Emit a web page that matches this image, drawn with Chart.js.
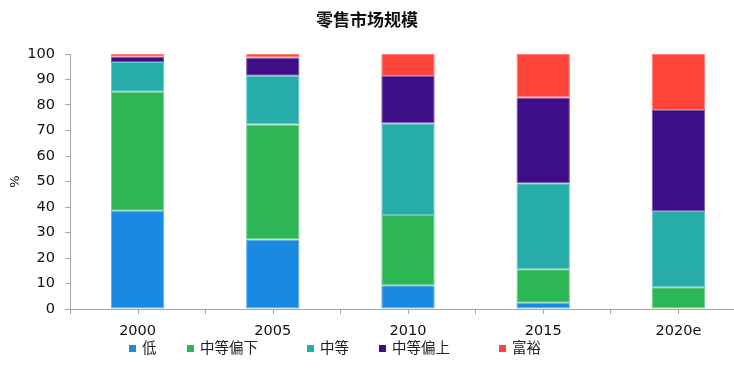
<!DOCTYPE html>
<html>
<head>
<meta charset="utf-8">
<script src="https://cdn.jsdelivr.net/npm/chart.js@4.4.1/dist/chart.umd.min.js"></script>
<style>
body { margin: 0; background: #fff; }
#wrap { position: relative; width: 734px; height: 368px; overflow: hidden; }
#chart1 { position: absolute; left: 0; top: 0; }
#legend { position: absolute; left: 0; top: 339px; width: 734px; height: 18px; }
.item { position: absolute; top: 0; font: 14.5px "Noto Sans CJK SC", sans-serif; line-height: 16px; color: #222; white-space: nowrap; }
.box { display: inline-block; width: 7px; height: 7px; margin-right: 6px; vertical-align: 1px; }
</style>
</head>
<body>
<div id="wrap">
  <canvas id="chart1" width="760" height="368"></canvas>
  <div id="legend"></div>
</div>
<script>
// categories and series (share of retail market, %)
var categories = ["2000", "2005", "2010", "2015", "2020e"];
var seriesNames = ["低", "中等偏下", "中等", "中等偏上", "富裕"];
var lowValues = [38.5, 27.3, 9.3, 2.5, 0];
var lowerMiddleValues = [46.7, 45.1, 27.6, 13.1, 8.5];
var middleValues = [11.7, 19.1, 35.9, 33.7, 29.9];
var upperMiddleValues = [2.0, 7.1, 18.6, 33.6, 39.6];
var affluentValues = [1.1, 1.4, 8.6, 17.1, 22.0];
var yTicks = [0, 10, 20, 30, 40, 50, 60, 70, 80, 90, 100];
var chartTitle = "零售市场规模";

var seriesColors = ["#1a89e2", "#2db655", "#27ada9", "#3d0e87", "#ff4338"];
var legendLeft = [129, 187, 307, 379, 499];
var axisColor = "#a6a6a6";
var numFont = { family: "'DejaVu Sans', Verdana, sans-serif", size: 14.5 };

/**
 * Mix a hex colour with white
 * @param {String} hex colour like #rrggbb
 * @param {Number} amount share of white (0..1)
 * @returns {String} rgb() string
 */
function lighten(hex, amount) {
    var n = parseInt(hex.slice(1), 16);
    var rgb = [(n >> 16) & 255, (n >> 8) & 255, n & 255].map(function (c) {
        return Math.round(c + (255 - c) * amount);
    });
    return "rgb(" + rgb.join(",") + ")";
}

var allSeries = [lowValues, lowerMiddleValues, middleValues, upperMiddleValues, affluentValues];
var datasets = allSeries.map(function (values, i) {
    return {
        label: seriesNames[i],
        data: values,
        backgroundColor: seriesColors[i],
        borderColor: lighten(seriesColors[i], 0.3),
        borderWidth: 1,
        borderSkipped: false,
        categoryPercentage: 1,
        barPercentage: 0.395
    };
});

// tick marks at category centres (boundaries come from the grid) + title
var extras = {
    id: "extras",
    afterDraw: function (chart) {
        var x = chart.scales.x;
        var ctx = chart.ctx;
        ctx.save();
        ctx.strokeStyle = axisColor;
        ctx.lineWidth = 1;
        categories.forEach(function (c, i) {
            var px = Math.round(x.getPixelForValue(i)) + 0.5;
            ctx.beginPath();
            ctx.moveTo(px, x.top);
            ctx.lineTo(px, x.top + 5);
            ctx.stroke();
        });
        // title, centred on the visible 734px page
        ctx.fillStyle = "#111";
        ctx.font = "bold 17px 'Noto Sans CJK SC', sans-serif";
        ctx.textAlign = "center";
        ctx.textBaseline = "middle";
        ctx.fillText(chartTitle, 367, 20);
        ctx.restore();
    }
};

new Chart(document.getElementById("chart1"), {
    type: "bar",
    data: { labels: categories, datasets: datasets },
    options: {
        responsive: false,
        animation: false,
        layout: { padding: { left: 0, right: 14, top: 54, bottom: 0 } },
        plugins: {
            legend: { display: false },
            tooltip: { enabled: false }
        },
        scales: {
            x: {
                stacked: true,
                grid: { offset: true, drawOnChartArea: false, drawTicks: true, tickLength: 5, color: axisColor },
                border: { color: axisColor },
                ticks: { color: "#111", font: numFont, padding: 9, maxRotation: 0 },
                afterFit: function (scale) { scale.height = 59; }
            },
            y: {
                stacked: true,
                min: 0,
                max: 100,
                afterBuildTicks: function (scale) {
                    scale.ticks = yTicks.map(function (v) { return { value: v }; });
                },
                grid: { drawOnChartArea: false, drawTicks: true, tickLength: 5, color: axisColor },
                border: { color: axisColor },
                ticks: { color: "#111", font: numFont, padding: 10 },
                title: { display: true, text: "%", color: "#111", font: { family: "'DejaVu Sans', sans-serif", size: 13 }, padding: { top: 8, bottom: 0 } },
                afterFit: function (scale) { scale.width = 70; }
            }
        }
    },
    plugins: [extras]
});

// legend
var legendDiv = document.getElementById("legend");
seriesNames.forEach(function (name, i) {
    var item = document.createElement("div");
    item.className = "item";
    item.style.left = legendLeft[i] + "px";
    var box = document.createElement("span");
    box.className = "box";
    box.style.background = seriesColors[i];
    item.appendChild(box);
    item.appendChild(document.createTextNode(name));
    legendDiv.appendChild(item);
});
</script>
</body>
</html>
